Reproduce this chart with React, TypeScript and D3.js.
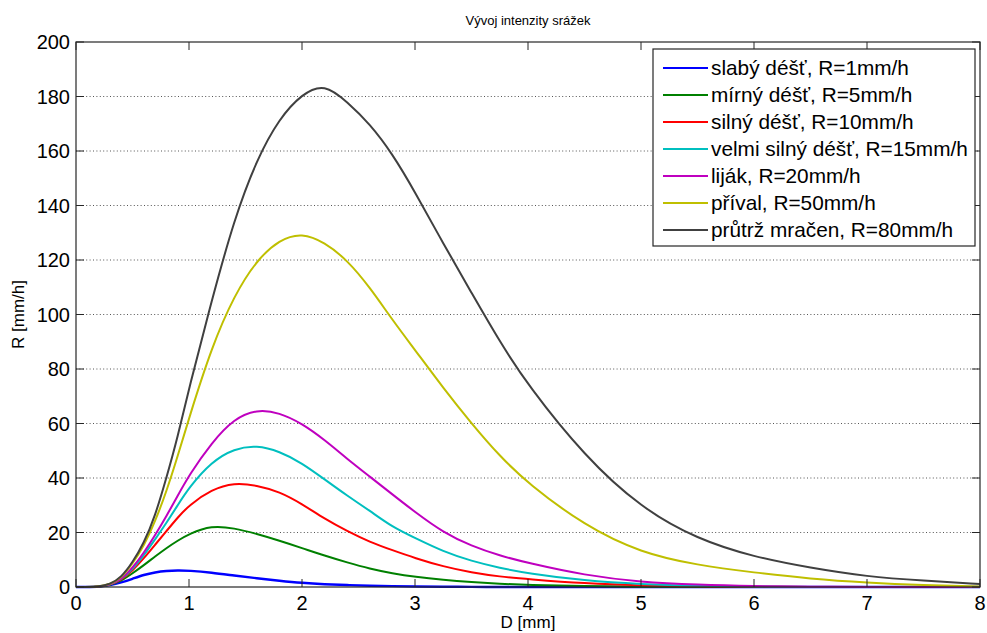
// Vývoj intenzity srážek — MATLAB-like line plot, drawn with D3 scales
import * as d3 from 'd3';

// ── Data (D in mm, R in mm/h) ────────────────────────────
const D_MM = [0, 0.2, 0.3, 0.4, 0.5, 0.6, 0.7, 0.8, 0.9, 1.0, 1.2, 1.4, 1.6, 1.8, 2.0, 2.2,
  2.4, 2.6, 2.8, 3.0, 3.25, 3.5, 3.75, 4.0, 4.5, 5.0, 5.5, 6.0, 6.5, 7.0, 7.5, 8.0];

const R_SLABY   = [0, 0, 0.6, 1.6, 3, 4.5, 5.4, 5.9, 6.1, 6.0, 5.3, 4.2, 3.2, 2.3, 1.5, 1.0, 0.7, 0.45, 0.3, 0.2, 0.1, 0.05, 0, 0, 0, 0, 0, 0, 0, 0, 0, 0];
const R_MIRNY   = [0, 0, 0.7, 2.2, 5, 8, 11.2, 14.3, 17, 19.5, 22.6, 21.6, 19.5, 17, 14.3, 11.5, 9, 6.7, 5, 3.7, 2.6, 1.8, 1.2, 0.7, 0.3, 0.1, 0, 0, 0, 0, 0, 0];
const R_SILNY   = [0, 0, 0.8, 2.5, 6, 10.5, 15.5, 20.5, 25.5, 30, 35.8, 38.3, 37.3, 35, 30.5, 25, 20.5, 16.5, 13.5, 10.6, 7.5, 5.3, 3.8, 2.9, 1.3, 0.5, 0.2, 0.1, 0, 0, 0, 0];
const R_VELMI   = [0, 0, 0.8, 2.7, 6.5, 11.5, 17.5, 23.5, 30, 36.5, 46, 50.8, 52, 49.8, 45.5, 39.5, 33.5, 28, 22, 18, 13, 9.5, 7, 5, 2.3, 1.0, 0.4, 0.15, 0, 0, 0, 0];
const R_LIJAK   = [0, 0, 0.8, 2.8, 7, 12.5, 19, 26, 33.5, 41, 53, 61.8, 65.2, 64, 60, 54, 47, 40.5, 34, 27.5, 20, 15, 11.5, 8.8, 4.3, 1.8, 0.8, 0.3, 0.1, 0, 0, 0];
const R_PRIVAL  = [0, 0, 1, 3.2, 8.5, 15, 24, 35, 48, 62, 88, 107, 120, 127.5, 130, 126.5, 120, 110, 98, 87, 73, 60, 48, 38, 22.5, 12.5, 8, 5.3, 3, 1.6, 0.7, 0.2];
const R_PRUTRZ  = [0, 0, 1, 3.5, 9, 16, 26, 40, 55, 73, 105, 135, 157, 172, 181, 184.8, 178, 170, 159, 145, 126, 108, 90, 74, 48, 29, 17.5, 11, 7, 3.8, 2.3, 1.1];

const SERIES_NAMES = [
  'slabý déšť, R=1mm/h',
  'mírný déšť, R=5mm/h',
  'silný déšť, R=10mm/h',
  'velmi silný déšť, R=15mm/h',
  'liják, R=20mm/h',
  'příval, R=50mm/h',
  'průtrž mračen, R=80mm/h',
];
const SERIES_VALUES = [R_SLABY, R_MIRNY, R_SILNY, R_VELMI, R_LIJAK, R_PRIVAL, R_PRUTRZ];
// MATLAB barvy b g r c m y k
const COLORS = ['#0000ff', '#008000', '#ff0000', '#00bfbf', '#bf00bf', '#bfbf00', '#404040'];

const X_TICKS = [0, 1, 2, 3, 4, 5, 6, 7, 8];
const Y_TICKS = [0, 20, 40, 60, 80, 100, 120, 140, 160, 180, 200];

const W = 987, H = 633;
const M = { left: 76, right: 980, top: 42, bottom: 587 };
const FONT = '"Liberation Sans", Arial, sans-serif';

export default function App() {
  const x = d3.scaleLinear().domain([0, 8]).range([M.left, M.right]);
  const y = d3.scaleLinear().domain([0, 200]).range([M.bottom, M.top]);

  const line = d3.line<number>()
    .x((_, i) => x(D_MM[i]))
    .y(d => y(d))
    .curve(d3.curveBasis);

  const TICK = 8;
  const axisColor = '#262626';

  // legenda
  const LG = { x: 653, y: 49, w: 322, h: 197, row0: 68, step: 27 };

  return (
    <svg width={W} height={H} style={{ position: 'absolute', left: 0, top: 0, background: '#fff' }}
      fontFamily={FONT}>
      <rect width={W} height={H} fill="#fff" />

      {/* mřížka */}
      {Y_TICKS.filter(t => t > 0 && t < 200).map(t => (
        <line key={'g' + t} x1={x(0)} x2={x(8)} y1={y(t)} y2={y(t)}
          stroke="#555" strokeWidth={1} strokeDasharray="1 2.4" />
      ))}

      {/* křivky */}
      {SERIES_VALUES.map((vals, i) => (
        <path key={'s' + i} d={line(vals) ?? ''} fill="none" stroke={COLORS[i]}
          strokeWidth={i === 0 ? 2.4 : 2} strokeLinejoin="round" />
      ))}

      {/* rámeček os */}
      <rect x={M.left} y={M.top} width={M.right - M.left} height={M.bottom - M.top}
        fill="none" stroke={axisColor} strokeWidth={1.2} />

      {/* ticky */}
      {X_TICKS.map(t => (
        <g key={'xt' + t}>
          <line x1={x(t)} x2={x(t)} y1={M.bottom} y2={M.bottom - TICK} stroke={axisColor} />
          <line x1={x(t)} x2={x(t)} y1={M.top} y2={M.top + TICK} stroke={axisColor} />
          <text x={x(t)} y={610} fontSize={20} textAnchor="middle" fill="#000">{t}</text>
        </g>
      ))}
      {Y_TICKS.map(t => (
        <g key={'yt' + t}>
          <line x1={M.left} x2={M.left + TICK} y1={y(t)} y2={y(t)} stroke={axisColor} />
          <line x1={M.right} x2={M.right - TICK} y1={y(t)} y2={y(t)} stroke={axisColor} />
          <text x={70} y={y(t)} dy="0.36em" fontSize={20} textAnchor="end" fill="#000">{t}</text>
        </g>
      ))}

      {/* popisky */}
      <text x={(M.left + M.right) / 2} y={25} fontSize={13} textAnchor="middle" fill="#000">
        Vývoj intenzity srážek
      </text>
      <text x={(M.left + M.right) / 2} y={628} fontSize={17} textAnchor="middle" fill="#000">
        D [mm]
      </text>
      <text transform={`translate(24, ${(M.top + M.bottom) / 2}) rotate(-90)`} fontSize={17}
        textAnchor="middle" fill="#000">
        R [mm/h]
      </text>

      {/* legenda */}
      <rect x={LG.x} y={LG.y} width={LG.w} height={LG.h} fill="#fff" stroke={axisColor} strokeWidth={1.2} />
      {SERIES_NAMES.map((name, i) => {
        const ry = LG.row0 + i * LG.step;
        return (
          <g key={'l' + i}>
            <line x1={663} x2={708} y1={ry} y2={ry} stroke={COLORS[i]} strokeWidth={2} />
            <text x={711} y={ry} dy="0.36em" fontSize={20.8} fill="#000">{name}</text>
          </g>
        );
      })}
    </svg>
  );
}
